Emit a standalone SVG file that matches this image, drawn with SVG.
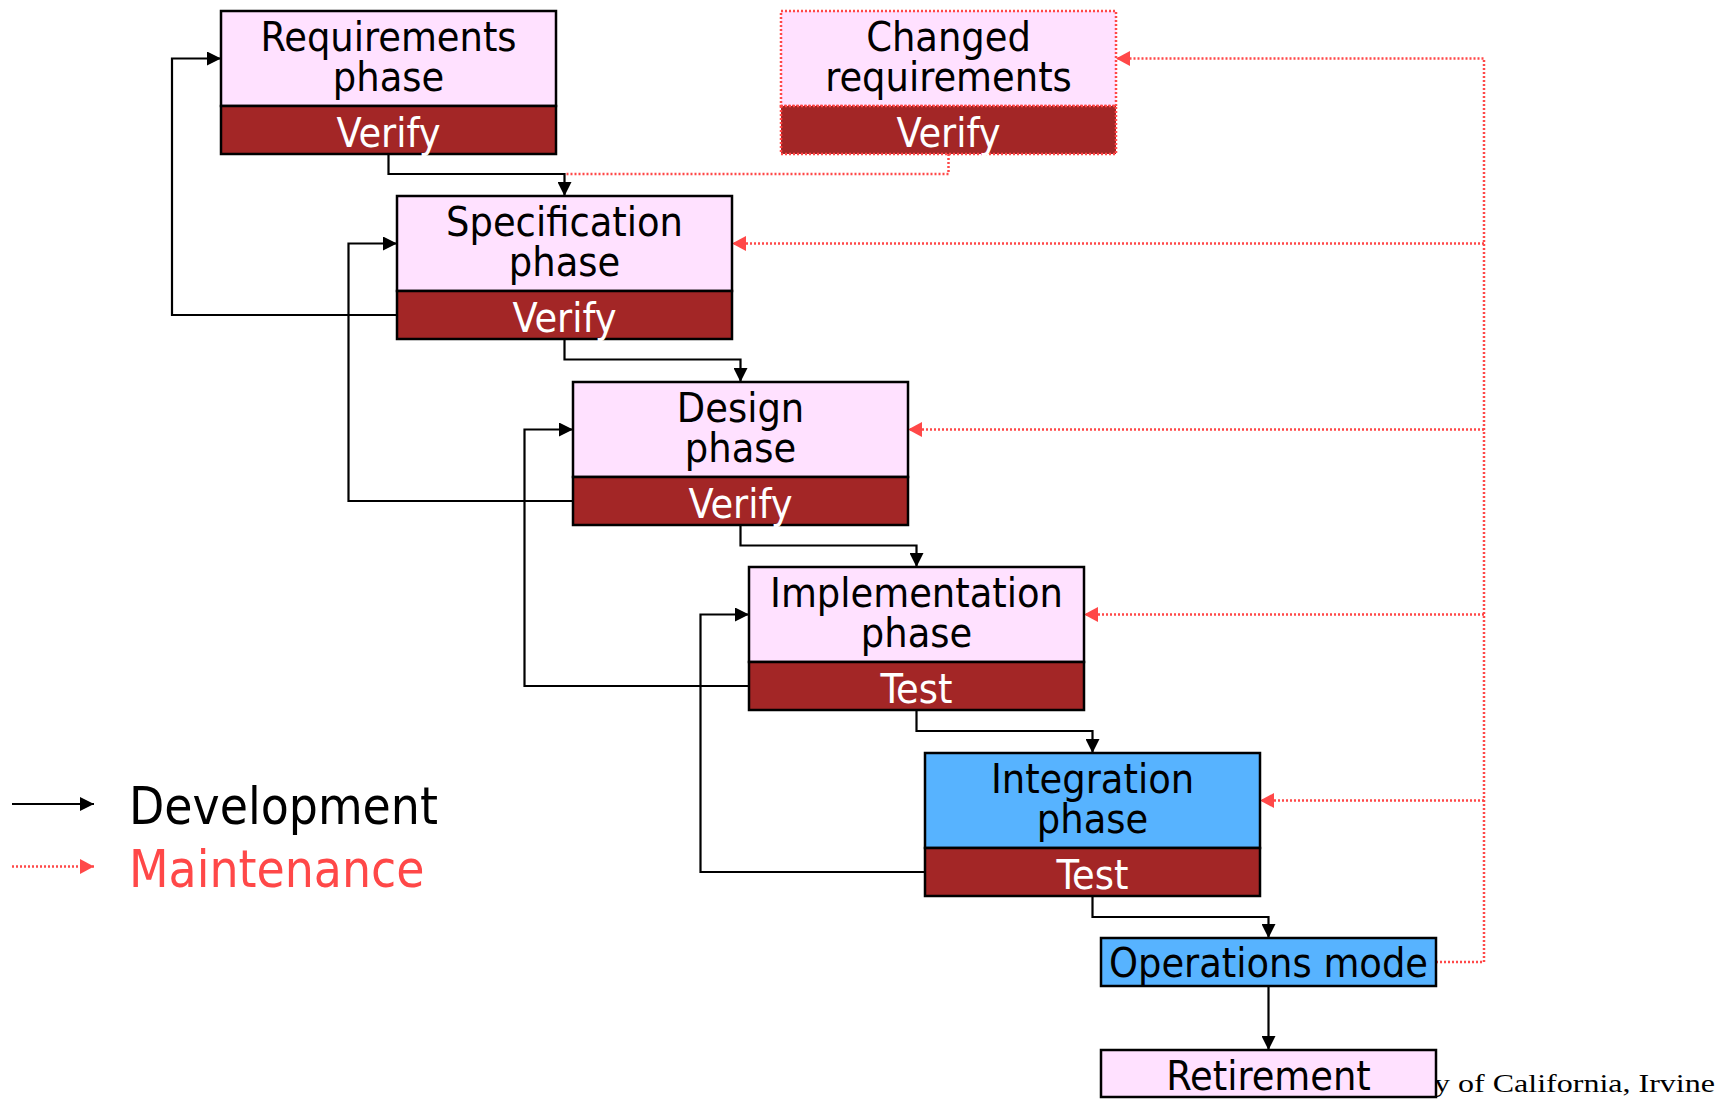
<svg xmlns="http://www.w3.org/2000/svg" width="1735" height="1099" viewBox="0 0 1735 1099">
<defs>
<style>
.pink{fill:#FFE1FF;stroke:#000;stroke-width:2.5}
.blue{fill:#57B3FF;stroke:#000;stroke-width:2.5}
.ver{fill:#A32626;stroke:#000;stroke-width:2.5}
.cpink{fill:#FFE1FF;stroke:#FF4848;stroke-width:2.5;stroke-dasharray:2 2}
.cver{fill:#A32626;stroke:#FF4848;stroke-width:2.5;stroke-dasharray:2 2}
.t{font-family:"DejaVu Sans Condensed","DejaVu Sans",sans-serif;font-stretch:condensed;font-size:41px;text-anchor:middle;fill:#000}
.w{fill:#fff}
.dev{fill:none;stroke:#000;stroke-width:2.2}
.mnt{fill:none;stroke:#FF4848;stroke-width:2.5;stroke-dasharray:2 2}
.leg{font-family:"DejaVu Sans Condensed","DejaVu Sans",sans-serif;font-stretch:condensed;font-size:51px}
</style>
<marker id="ab" markerUnits="userSpaceOnUse" markerWidth="14" markerHeight="14" refX="14" refY="7" orient="auto">
<path d="M0,0 L14,7 L0,14 z" fill="#000" stroke="none"/>
</marker>
<marker id="ar" markerUnits="userSpaceOnUse" markerWidth="14" markerHeight="15" refX="14" refY="7.5" orient="auto">
<path d="M0,0 L14,7.5 L0,15 z" fill="#FF4848" stroke="none"/>
</marker>
</defs>

<g id="footer">
<text x="1434" y="1092" font-family="Liberation Serif, serif" font-size="26" textLength="281" lengthAdjust="spacingAndGlyphs" fill="#000">y of California, Irvine</text>
</g>

<g id="connectors">
<path class="dev" d="M388.5,154 V174 H564.5 V196" marker-end="url(#ab)"/>
<path class="dev" d="M564.5,339 V359.5 H740.5 V382" marker-end="url(#ab)"/>
<path class="dev" d="M740.5,525 V545.5 H916.5 V567" marker-end="url(#ab)"/>
<path class="dev" d="M916.5,710 V731 H1092.5 V753" marker-end="url(#ab)"/>
<path class="dev" d="M1092.5,896 V917 H1268.5 V938" marker-end="url(#ab)"/>
<path class="dev" d="M1268.5,986 V1050" marker-end="url(#ab)"/>
<path class="dev" d="M397,315 H172 V58.5 H221" marker-end="url(#ab)"/>
<path class="dev" d="M573,501 H348.5 V243.5 H397" marker-end="url(#ab)"/>
<path class="dev" d="M749,686 H524.5 V429.5 H573" marker-end="url(#ab)"/>
<path class="dev" d="M925,872 H700.5 V614.5 H749" marker-end="url(#ab)"/>
<path class="mnt" d="M1436,962 H1484 V58.5 H1116" marker-end="url(#ar)"/>
<path class="mnt" d="M1484,243.5 H732" marker-end="url(#ar)"/>
<path class="mnt" d="M1484,429.5 H908" marker-end="url(#ar)"/>
<path class="mnt" d="M1484,614.5 H1084" marker-end="url(#ar)"/>
<path class="mnt" d="M1484,800.5 H1260" marker-end="url(#ar)"/>
<path class="mnt" d="M948.5,154 V174 H566"/>
</g>

<g id="requirements">
<rect class="pink" x="221" y="11" width="335" height="95"/>
<rect class="ver" x="221" y="106" width="335" height="48"/>
<text class="t" x="388.5" y="51">Requirements</text>
<text class="t" x="388.5" y="91">phase</text>
<text class="t w" x="388.5" y="147">Verify</text>
</g>

<g id="changed">
<rect class="cpink" x="781" y="11" width="335" height="95"/>
<rect class="cver" x="781" y="106" width="335" height="48"/>
<text class="t" x="948.5" y="51">Changed</text>
<text class="t" x="948.5" y="91">requirements</text>
<text class="t w" x="948.5" y="147">Verify</text>
</g>

<g id="specification">
<rect class="pink" x="397" y="196" width="335" height="95"/>
<rect class="ver" x="397" y="291" width="335" height="48"/>
<text class="t" x="564.5" y="236">Specification</text>
<text class="t" x="564.5" y="276">phase</text>
<text class="t w" x="564.5" y="332">Verify</text>
</g>

<g id="design">
<rect class="pink" x="573" y="382" width="335" height="95"/>
<rect class="ver" x="573" y="477" width="335" height="48"/>
<text class="t" x="740.5" y="422">Design</text>
<text class="t" x="740.5" y="462">phase</text>
<text class="t w" x="740.5" y="518">Verify</text>
</g>

<g id="implementation">
<rect class="pink" x="749" y="567" width="335" height="95"/>
<rect class="ver" x="749" y="662" width="335" height="48"/>
<text class="t" x="916.5" y="607">Implementation</text>
<text class="t" x="916.5" y="647">phase</text>
<text class="t w" x="916.5" y="703">Test</text>
</g>

<g id="integration">
<rect class="blue" x="925" y="753" width="335" height="95"/>
<rect class="ver" x="925" y="848" width="335" height="48"/>
<text class="t" x="1092.5" y="793">Integration</text>
<text class="t" x="1092.5" y="833">phase</text>
<text class="t w" x="1092.5" y="889">Test</text>
</g>

<g id="operations">
<rect class="blue" x="1101" y="938" width="335" height="48"/>
<text class="t" x="1268.5" y="977">Operations mode</text>
</g>

<g id="retirement">
<rect class="pink" x="1101" y="1050" width="335" height="47"/>
<text class="t" x="1268.5" y="1090">Retirement</text>
</g>

<g id="legend">
<path class="dev" d="M12,804 H94" marker-end="url(#ab)"/>
<path class="mnt" d="M12,866.5 H94" marker-end="url(#ar)"/>
<text class="leg" x="129" y="823.5" fill="#000">Development</text>
<text class="leg" x="129" y="886.5" fill="#FF4848">Maintenance</text>
</g>
</svg>
